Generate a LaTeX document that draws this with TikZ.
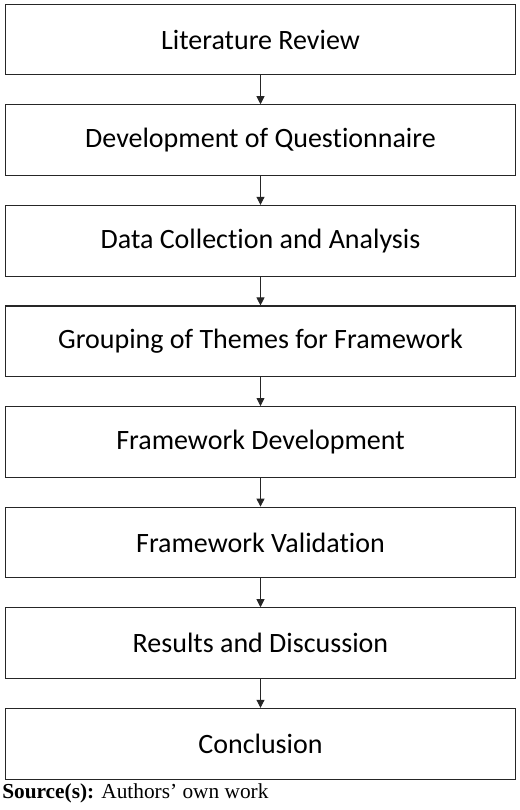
\documentclass[tikz,border=0pt]{standalone}
\usepackage{fontspec}
\setmainfont{Liberation Serif}
\newfontfamily\boxfont{Carlito}[Ligatures=NoCommon]
\usetikzlibrary{arrows.meta}

\tikzset{
  stagebox/.style={draw=black!85, line width=0.8pt, minimum width=383pt, minimum height=53pt,
    inner sep=0pt, font=\boxfont\fontsize{21}{25}\selectfont},
  flowarrow/.style={draw=black!85, line width=0.6pt, -{Triangle[width=6pt,length=6pt]}}
}

\begin{document}
\begin{tikzpicture}[x=0.75pt,y=0.75pt,yscale=-1,xscale=1]
\useasboundingbox (0,0) rectangle (520,810);

%Shape: Rectangle [id:litreview]
\node [stagebox] (litreview) at (260.5,39.5) {Literature Review};
%Shape: Rectangle [id:questionnaire]
\node [stagebox] (questionnaire) at (260.5,140.1) {Development of Questionnaire};
%Shape: Rectangle [id:datacollection]
\node [stagebox] (datacollection) at (260.5,240.7) {Data Collection and Analysis};
%Shape: Rectangle [id:grouping]
\node [stagebox] (grouping) at (260.5,341.3) {Grouping of Themes for Framework};
%Shape: Rectangle [id:fwdevelopment]
\node [stagebox] (fwdevelopment) at (260.5,441.9) {Framework Development};
%Shape: Rectangle [id:fwvalidation]
\node [stagebox] (fwvalidation) at (260.5,542.5) {Framework Validation};
%Shape: Rectangle [id:results]
\node [stagebox] (results) at (260.5,643.1) {Results and Discussion};
%Shape: Rectangle [id:conclusion]
\node [stagebox] (conclusion) at (260.5,743.7) {Conclusion};

%Straight Lines
\draw [flowarrow] (litreview) -- (questionnaire);
\draw [flowarrow] (questionnaire) -- (datacollection);
\draw [flowarrow] (datacollection) -- (grouping);
\draw [flowarrow] (grouping) -- (fwdevelopment);
\draw [flowarrow] (fwdevelopment) -- (fwvalidation);
\draw [flowarrow] (fwvalidation) -- (results);
\draw [flowarrow] (results) -- (conclusion);

% Text Node
\node [anchor=base west, inner sep=0pt, font=\fontsize{16}{19}\selectfont] (source) at (2,798) {\textbf{Source(s):} Authors' own work};
\end{tikzpicture}
\end{document}
